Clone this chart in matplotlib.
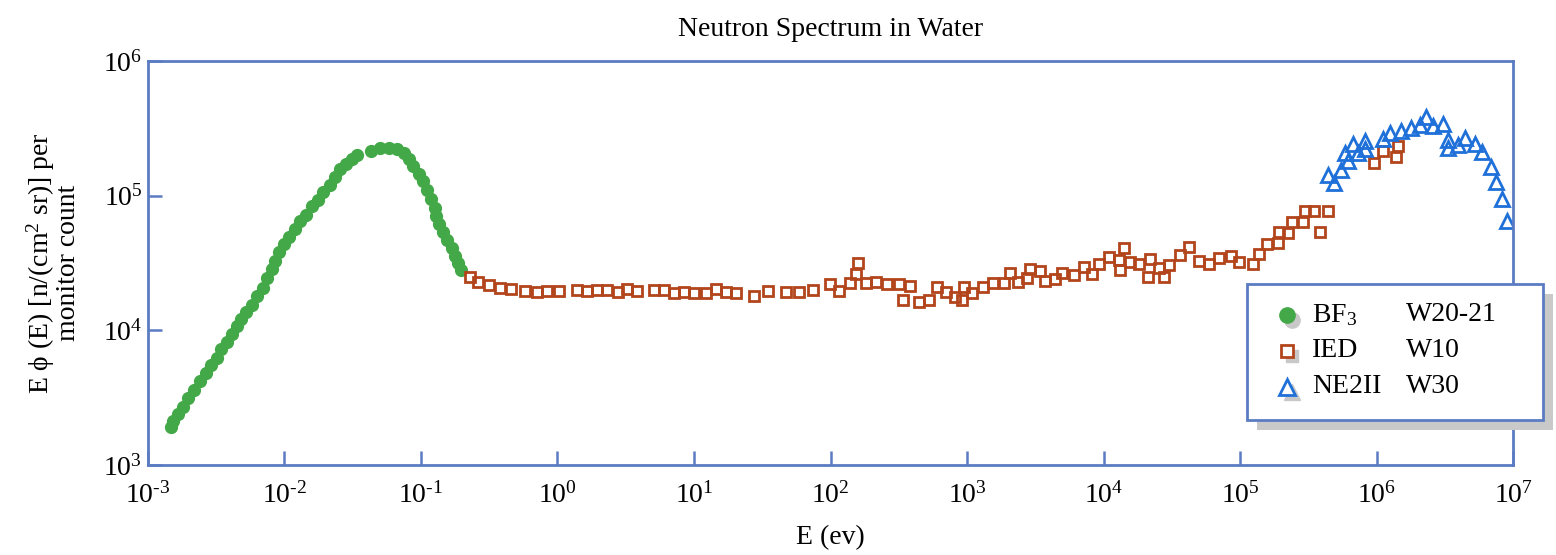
import numpy as np
import matplotlib
matplotlib.use("Agg")
import matplotlib.pyplot as plt
import matplotlib.ticker as mticker
from matplotlib.patches import Rectangle
from matplotlib.transforms import ScaledTranslation

# ---------------------------------------------------------
# Daten
# ---------------------------------------------------------
# BF3 (W20-21)
bf3_E = [1.47e-3, 1.53e-3, 1.67e-3, 1.80e-3, 1.97e-3, 2.18e-3, 2.40e-3, 2.66e-3,
         2.90e-3, 3.18e-3, 3.43e-3, 3.77e-3, 4.10e-3, 4.51e-3, 4.80e-3, 5.22e-3,
         5.81e-3, 6.25e-3, 6.96e-3, 7.45e-3, 8.09e-3, 8.51e-3, 9.16e-3, 9.90e-3,
         1.08e-2, 1.20e-2, 1.30e-2, 1.44e-2, 1.58e-2, 1.77e-2, 1.93e-2, 2.15e-2,
         2.33e-2, 2.55e-2, 2.82e-2, 3.10e-2, 3.40e-2, 4.31e-2, 5.01e-2, 5.80e-2,
         6.71e-2, 7.55e-2, 8.21e-2, 8.79e-2, 9.73e-2, 0.104, 0.111, 0.118,
         0.126, 0.128, 0.136, 0.144, 0.154, 0.168, 0.177, 0.186, 0.195]
bf3_flux = [1.93e3, 2.12e3, 2.39e3, 2.69e3, 3.13e3, 3.59e3, 4.23e3, 4.83e3,
            5.56e3, 6.28e3, 7.23e3, 8.20e3, 9.35e3, 1.08e4, 1.21e4, 1.36e4,
            1.55e4, 1.80e4, 2.06e4, 2.44e4, 2.87e4, 3.27e4, 3.84e4, 4.38e4,
            4.96e4, 5.69e4, 6.46e4, 7.15e4, 8.34e4, 9.29e4, 1.07e5, 1.21e5,
            1.38e5, 1.57e5, 1.71e5, 1.86e5, 2.01e5, 2.16e5, 2.25e5, 2.27e5,
            2.21e5, 2.06e5, 1.86e5, 1.66e5, 1.46e5, 1.28e5, 1.10e5, 9.45e4,
            8.15e4, 7.07e4, 6.17e4, 5.41e4, 4.66e4, 4.07e4, 3.55e4, 3.15e4, 2.81e4]

# IED (W10)
ied_E = [0.229, 0.263, 0.315, 0.379, 0.456, 0.575, 0.708, 0.834, 1.02, 1.38,
         1.64, 1.95, 2.32, 2.77, 3.23, 3.80, 5.09, 6.06, 7.17, 8.49,
         10.0, 12.2, 14.4, 17.1, 20.4, 27.4, 34.8, 46.9, 58.8, 74.1,
         99.1, 116, 139, 153, 160, 182, 217, 261, 316, 341,
         382, 447, 527, 603, 701, 817, 924, 955, 1081, 1315,
         1559, 1867, 2065, 2351, 2767, 2893, 3409, 3709, 4414, 4989,
         6081, 7161, 8197, 9268, 1.09e4, 1.30e4, 1.33e4, 1.41e4, 1.56e4, 1.83e4,
         2.19e4, 2.13e4, 2.56e4, 2.79e4, 3.03e4, 3.63e4, 4.25e4, 5.01e4, 5.93e4, 7.05e4,
         8.59e4, 9.83e4, 1.24e5, 1.38e5, 1.58e5, 1.91e5, 1.93e5, 2.26e5, 2.40e5, 2.88e5,
         2.99e5, 3.50e5, 3.85e5, 4.44e5, 9.59e5, 1.11e6, 1.38e6, 1.43e6]
ied_flux = [2.48e4, 2.30e4, 2.17e4, 2.06e4, 2.04e4, 1.97e4, 1.94e4, 1.96e4, 1.96e4, 1.99e4,
            1.97e4, 2.00e4, 2.00e4, 1.92e4, 2.02e4, 1.97e4, 1.99e4, 1.99e4, 1.90e4, 1.92e4,
            1.90e4, 1.90e4, 2.02e4, 1.93e4, 1.90e4, 1.81e4, 1.96e4, 1.92e4, 1.94e4, 1.99e4,
            2.21e4, 1.96e4, 2.26e4, 2.61e4, 3.15e4, 2.24e4, 2.28e4, 2.21e4, 2.20e4, 1.68e4,
            2.14e4, 1.62e4, 1.67e4, 2.11e4, 1.92e4, 1.78e4, 1.69e4, 2.09e4, 1.90e4, 2.08e4,
            2.26e4, 2.24e4, 2.65e4, 2.30e4, 2.46e4, 2.87e4, 2.76e4, 2.34e4, 2.41e4, 2.65e4,
            2.56e4, 2.94e4, 2.62e4, 3.11e4, 3.51e4, 3.33e4, 2.81e4, 4.07e4, 3.22e4, 3.11e4,
            3.41e4, 2.50e4, 2.90e4, 2.48e4, 3.07e4, 3.65e4, 4.16e4, 3.26e4, 3.10e4, 3.45e4,
            3.59e4, 3.22e4, 3.11e4, 3.69e4, 4.38e4, 4.43e4, 5.35e4, 5.31e4, 6.41e4, 6.38e4,
            7.70e4, 7.70e4, 5.40e4, 7.74e4, 1.76e5, 2.15e5, 1.93e5, 2.34e5]

# NE2II (W30)
ne_E = [4.39e5, 4.88e5, 5.50e5, 5.88e5, 6.21e5, 6.69e5, 7.36e5, 8.24e5, 8.24e5,
        1.12e6, 1.26e6, 1.51e6, 1.79e6, 2.08e6, 2.29e6, 2.61e6, 3.08e6, 3.36e6,
        3.36e6, 3.97e6, 4.45e6, 5.27e6, 5.90e6, 6.87e6, 7.46e6, 8.26e6, 8.99e6]
ne_flux = [1.42e5, 1.25e5, 1.55e5, 2.06e5, 1.82e5, 2.41e5, 2.09e5, 2.56e5, 2.21e5,
           2.62e5, 2.91e5, 3.04e5, 3.20e5, 3.35e5, 3.82e5, 3.31e5, 3.41e5, 2.59e5,
           2.25e5, 2.38e5, 2.67e5, 2.42e5, 2.10e5, 1.62e5, 1.27e5, 9.45e4, 6.52e4]

# Legende: Detektor / Messung
leg_labels = ["BF$_3$", "IED", "NE2II"]
leg_runs = ["W20-21", "W10", "W30"]

# ---------------------------------------------------------
# Stil
# ---------------------------------------------------------
plt.rcParams["font.family"] = ["Liberation Serif", "DejaVu Serif"]
plt.rcParams["mathtext.fontset"] = "custom"
plt.rcParams["mathtext.rm"] = "Liberation Serif"
plt.rcParams["mathtext.it"] = "Liberation Serif:italic"
plt.rcParams["mathtext.default"] = "regular"
plt.rcParams["font.size"] = 20

frame_col = "#5b7bc2"
green = "#43a847"
red = "#b2451c"
blue = "#1f70d8"

fig = plt.figure(figsize=(15.56, 5.55), dpi=100)
ax = fig.add_axes([0.0951, 0.1622, 0.8773, 0.7279])

styles = [
    dict(marker="o", ms=8.5, mfc=green, mec=green, ls="none"),
    dict(marker="s", ms=7.5, mfc="none", mec=red, mew=2, ls="none"),
    dict(marker="^", ms=9.5, mfc="none", mec=blue, mew=2, ls="none"),
]
ax.plot(bf3_E, bf3_flux, **styles[0])
ax.plot(ied_E, ied_flux, **styles[1])
ax.plot(ne_E, ne_flux, **styles[2])

ax.set_xscale("log")
ax.set_yscale("log")
ax.set_xlim(1e-3, 1e7)
ax.set_ylim(1e3, 1e6)

def pow10(v, pos):
    # Bindestrich statt Minuszeichen wie im Original
    e = int(round(np.log10(v)))
    s = f"\u2010{abs(e)}" if e < 0 else str(e)
    return f"10$^{{{s}}}$"

ax.xaxis.set_major_locator(mticker.LogLocator(base=10, numticks=20))
ax.yaxis.set_major_locator(mticker.LogLocator(base=10, numticks=20))
ax.xaxis.set_minor_locator(mticker.NullLocator())
ax.yaxis.set_minor_locator(mticker.NullLocator())
ax.xaxis.set_major_formatter(mticker.FuncFormatter(pow10))
ax.yaxis.set_major_formatter(mticker.FuncFormatter(pow10))

for sp in ax.spines.values():
    sp.set_color(frame_col)
    sp.set_linewidth(2)
ax.tick_params(direction="in", length=10, width=1.8, color=frame_col, labelsize=20)
ax.tick_params(axis="x", pad=12)
ax.tick_params(axis="y", pad=4)

ax.set_title("Neutron Spectrum in Water", fontsize=20, pad=18)
ax.set_xlabel("E (ev)", fontsize=20, labelpad=12)
ax.set_ylabel("E \u03d5 (E) [n/(cm$^2$ sr)] per\nmonitor count", fontsize=20,
              labelpad=16, linespacing=0.95)

# ---------------------------------------------------------
# Legende mit Schatten (manuell, damit zwei Textspalten moeglich sind)
# ---------------------------------------------------------
lx0, ly0, lw, lh = 0.8053, 0.1114, 0.2169, 0.3366
shadow = ax.transAxes + ScaledTranslation(7 / 72, -7.5 / 72, fig.dpi_scale_trans)
ax.add_patch(Rectangle((lx0, ly0), lw, lh, transform=shadow, facecolor="#c9c9c9",
                       edgecolor="none", clip_on=False, zorder=5))
ax.add_patch(Rectangle((lx0, ly0), lw, lh, transform=ax.transAxes, facecolor="white",
                       edgecolor=frame_col, lw=2, clip_on=False, zorder=6))

row_y = [0.3713, 0.2822, 0.1931]
leg_ms = [11, 8.5, 12]
mshadow = ax.transAxes + ScaledTranslation(4 / 72, -3.5 / 72, fig.dpi_scale_trans)
for st, ms, y, lab, run in zip(styles, leg_ms, row_y, leg_labels, leg_runs):
    ax.plot([0.8342], [y], marker=st["marker"], ms=ms, color="#c8c8c8", ls="none",
            transform=mshadow, clip_on=False, zorder=7)
    kw = dict(st)
    kw["ms"] = ms
    if kw["marker"] != "o":
        kw["mfc"] = "white"
    ax.plot([0.8342], [y], transform=ax.transAxes, clip_on=False, zorder=8, **kw)
    ax.text(0.8527, y, lab, transform=ax.transAxes, va="center", ha="left",
            fontsize=20, zorder=9)
    ax.text(0.9216, y, run, transform=ax.transAxes, va="center", ha="left",
            fontsize=20, zorder=9)

fig.savefig("out.png", dpi=100)
